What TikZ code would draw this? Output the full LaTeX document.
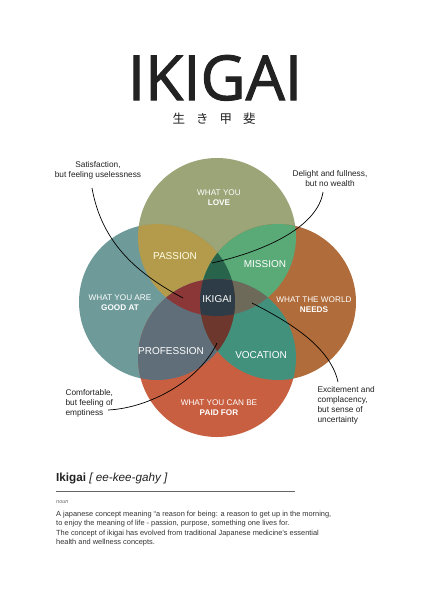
\documentclass[tikz,border=0pt]{standalone}
\usepackage{fontspec}
\setmainfont{Liberation Sans}
\newfontfamily\titlefont{Open Sans}[FakeBold=1.6]
\newfontfamily\cjk{Noto Sans CJK JP}
\usetikzlibrary{positioning}

\definecolor{loveC}{HTML}{9BA578}
\definecolor{goodC}{HTML}{6E9B9A}
\definecolor{needsC}{HTML}{B06C3A}
\definecolor{paidC}{HTML}{C85F41}
\definecolor{passionC}{HTML}{B49B4B}
\definecolor{missionC}{HTML}{5AAA78}
\definecolor{professionC}{HTML}{5F6E78}
\definecolor{vocationC}{HTML}{41917D}
\definecolor{lgnC}{HTML}{28644B}
\definecolor{lgpC}{HTML}{8C3737}
\definecolor{lnpC}{HTML}{6E6A5A}
\definecolor{gnpC}{HTML}{6E372D}
\definecolor{coreC}{HTML}{2D3C46}
\definecolor{inkC}{HTML}{222222}

\begin{document}
\begin{tikzpicture}[x=1pt,y=-1pt,
    lab/.style={text=white,font=\fontsize{8.2}{9.8}\selectfont,align=center},
    big/.style={text=white,font=\fontsize{10}{12}\selectfont},
    note/.style={text=inkC,font=\fontsize{8.3}{10}\selectfont},
    pointer/.style={line width=0.7pt,black}]
  \useasboundingbox[fill=white] (0,0) rectangle (428,600);

  % the four circles
  \def\love{(217,237) circle (79pt)}
  \def\good{(157,302) circle (78pt)}
  \def\needs{(278,302) circle (78pt)}
  \def\paid{(217,358) circle (79pt)}

  \fill[loveC] \love;
  \fill[goodC] \good;
  \fill[needsC] \needs;
  \fill[paidC] \paid;

  % two at a time
  \begin{scope}
    \clip \love;
    \fill[passionC] \good;
    \fill[missionC] \needs;
  \end{scope}
  \begin{scope}
    \clip \paid;
    \fill[professionC] \good;
    \fill[vocationC] \needs;
  \end{scope}

  % three at a time
  \begin{scope}
    \clip \love; \clip \good;
    \fill[lgnC] \needs;
    \fill[lgpC] \paid;
  \end{scope}
  \begin{scope}
    \clip \love; \clip \needs;
    \fill[lnpC] \paid;
  \end{scope}
  \begin{scope}
    \clip \good; \clip \needs;
    \fill[gnpC] \paid;
  \end{scope}

  % all four
  \begin{scope}
    \clip \love; \clip \good; \clip \needs;
    \fill[coreC] \paid;
  \end{scope}

  % title
  \node[font=\titlefont\fontsize{62}{62}\selectfont, text=inkC, anchor=base, inner sep=0pt] (title) at (215,100) {IKIGAI};
  \node[font=\cjk\fontsize{12.5}{13}\selectfont, text=inkC, inner sep=0pt] (kanji) at (214,119)
    {生\hspace{11pt}き\hspace{11pt}甲\hspace{11pt}斐};

  % labels in the circles
  \node[lab] (love) at (219,198) {WHAT YOU\\\textbf{LOVE}};
  \node[lab] (good) at (120,303) {WHAT YOU ARE\\\textbf{GOOD AT}};
  \node[lab] (needs) at (314,305) {WHAT THE WORLD\\\textbf{NEEDS}};
  \node[lab] (paid) at (219,408) {WHAT YOU CAN BE\\\textbf{PAID FOR}};
  \node[big, text=white!90!yellow] (passion) at (175,256) {PASSION};
  \node[big] (mission) at (265,264) {MISSION};
  \node[big] (profession) at (171,351) {PROFESSION};
  \node[big] (vocation) at (261,355) {VOCATION};
  \node[big] (ikigai) at (217,299) {IKIGAI};

  % notes
  \node[note, align=center] (satisfaction) at (98,170) {Satisfaction,\\but feeling uselessness};
  \node[note, align=center] (delight) at (330,179) {Delight and fullness,\\but no wealth};
  \node[note, align=left, anchor=west] (comfortable) at (62,403) {Comfortable,\\but feeling of\\emptiness};
  \node[note, align=left, anchor=west] (excitement) at (314,405) {Excitement and\\complacency,\\but sense of\\uncertainty};

  \coordinate (satTail) at (92,188);
  \coordinate (satTip) at (183,298);
  \coordinate (delTail) at (323,192);
  \coordinate (delTip) at (212,263);
  \coordinate (comTail) at (108,410);
  \coordinate (comTip) at (217,343);
  \coordinate (excTail) at (338,382);
  \coordinate (excTip) at (252,303);

  \draw[pointer] (satTail) .. controls (102,245) and (140,275) .. (satTip);
  \draw[pointer] (delTail) .. controls (318,225) and (270,250) .. (delTip);
  \draw[pointer] (comTail) .. controls (150,408) and (200,380) .. (comTip);
  \draw[pointer] (excTip) .. controls (285,320) and (330,345) .. (excTail);

  % definition
  \node[anchor=base west, inner sep=0pt, text=inkC, font=\fontsize{11.7}{13}\selectfont] (word) at (56,481)
    {\textbf{Ikigai} \textit{[ ee-kee-gahy ]}};
  \coordinate (ruleL) at (56,491);
  \coordinate (ruleR) at (295,491);
  \draw[black!60, line width=0.6pt] (ruleL) -- (ruleR);
  \node[anchor=base west, inner sep=0pt, text=black!60, font=\fontsize{5.5}{6}\selectfont\itshape] (noun) at (56,503) {noun};
  \node[anchor=north west, inner sep=0pt, text=black!80, align=left, font=\fontsize{7.4}{9.3}\selectfont] (meaning) at (56,511)
    {A japanese concept meaning “a reason for being: a reason to get up in the morning,\\
     to enjoy the meaning of life - passion, purpose, something one lives for.\\
     The concept of ikigai has evolved from traditional Japanese medicine's essential\\
     health and wellness concepts.};
\end{tikzpicture}
\end{document}
